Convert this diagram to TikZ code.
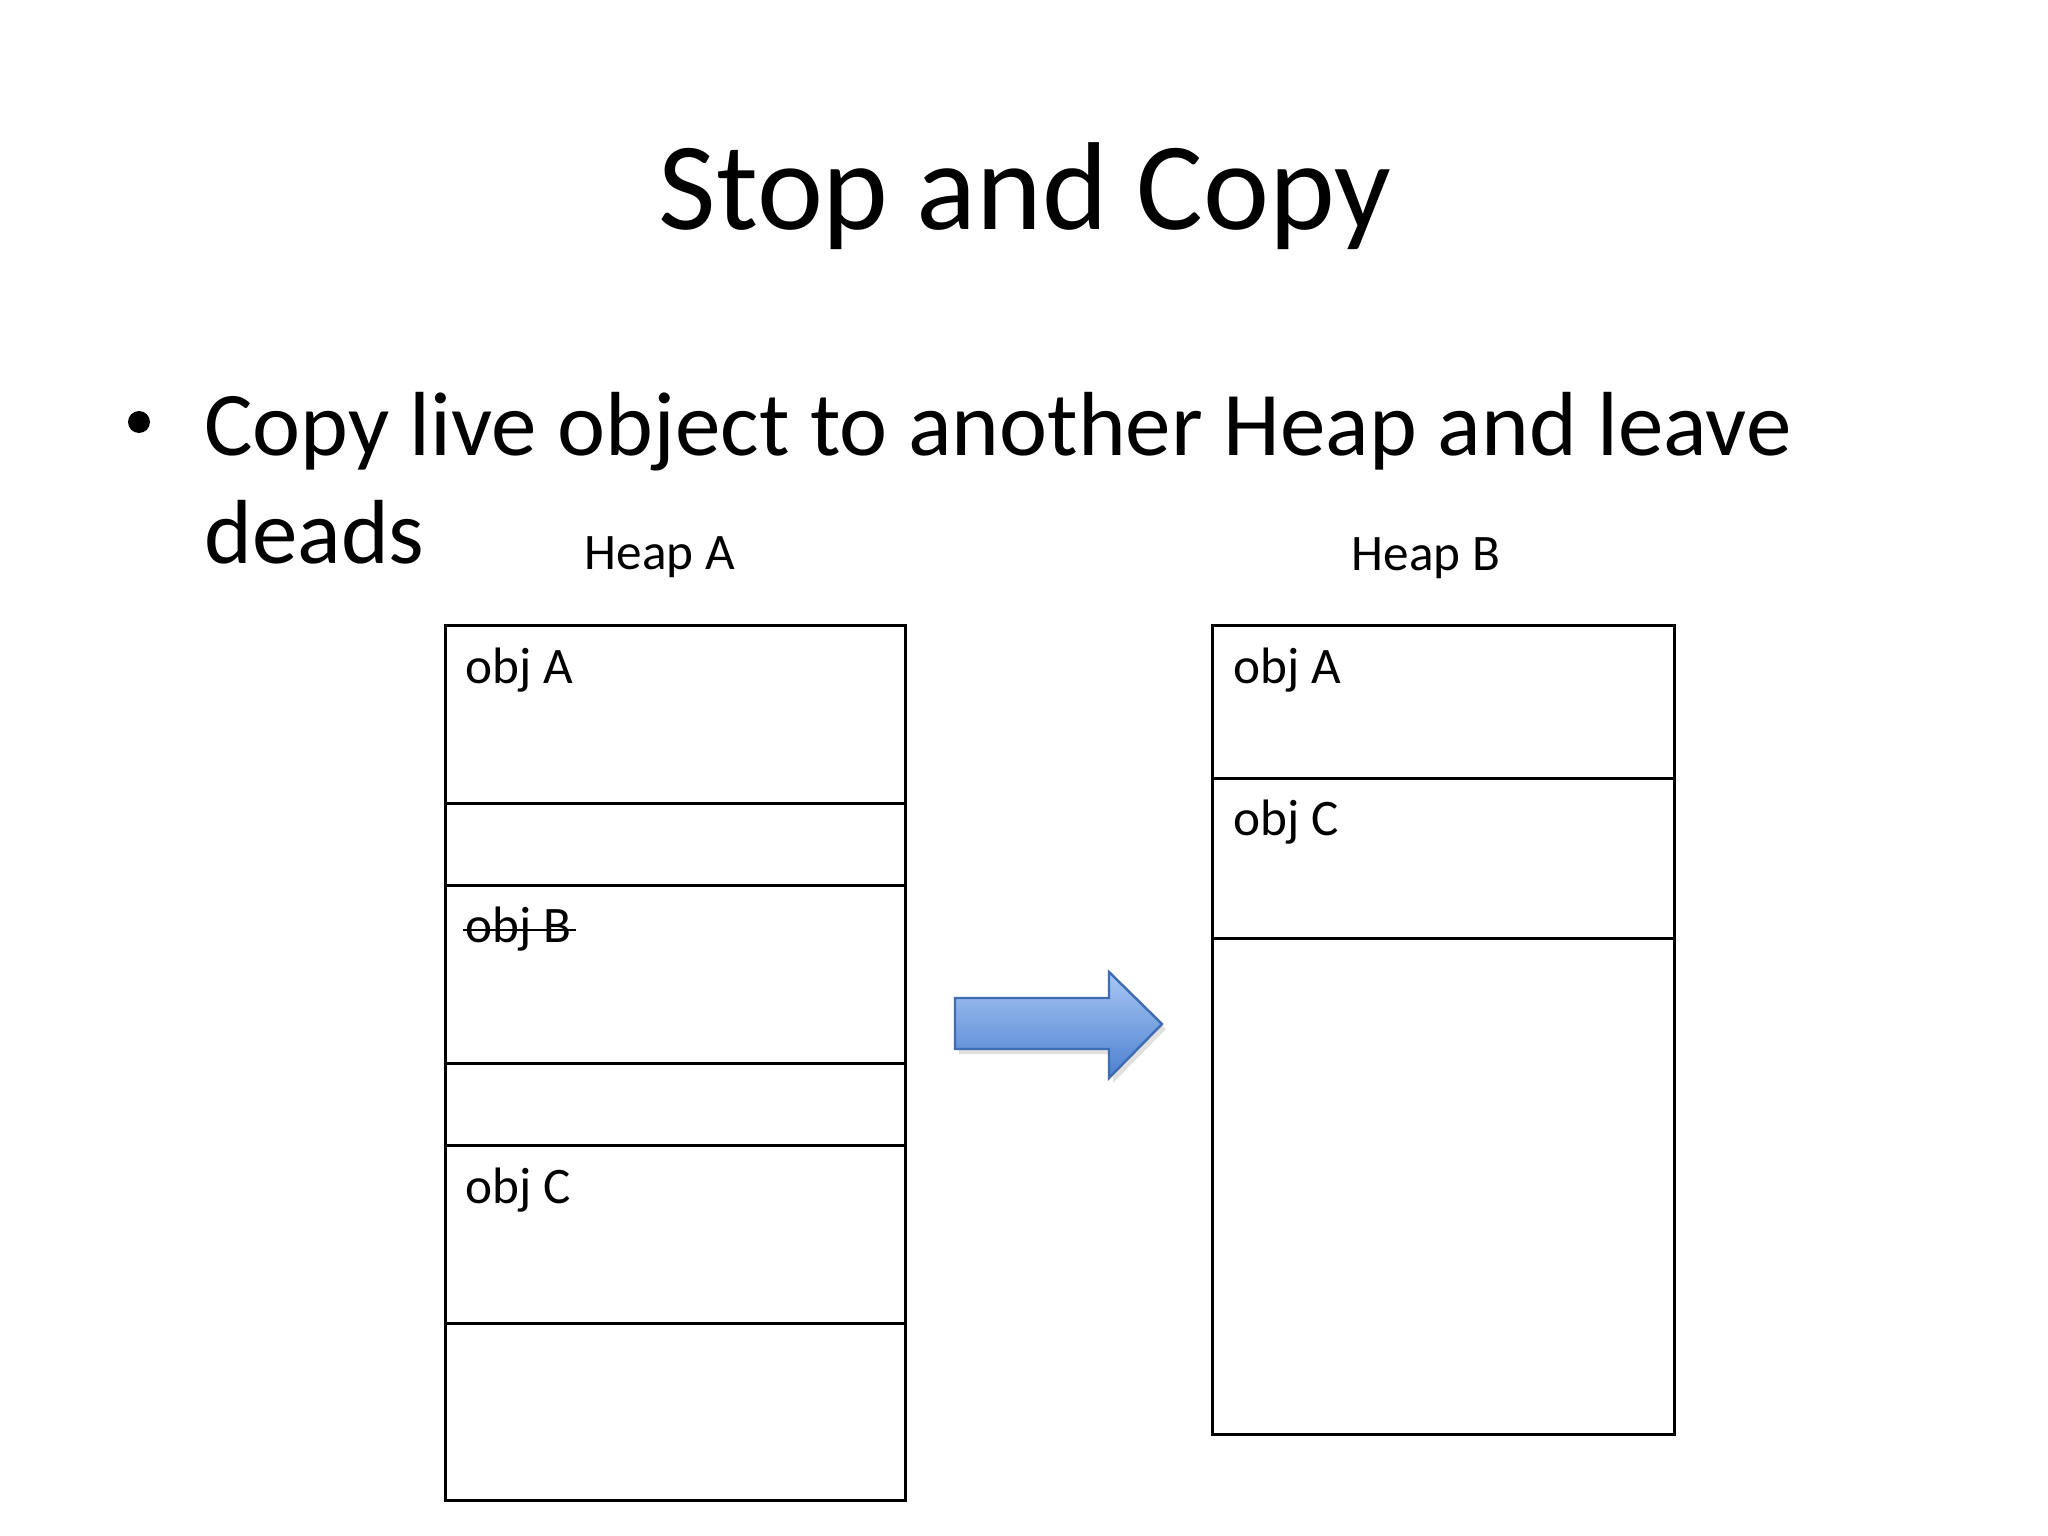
\documentclass[tikz,border=0pt]{standalone}
\usepackage{fontspec}
\setmainfont{Carlito}
\usepackage{tikz}
\usetikzlibrary{arrows,positioning,backgrounds,calc}
\definecolor{arrowtop}{HTML}{A9C7F4}
\definecolor{arrowbot}{HTML}{4C80D0}
\definecolor{arrowline}{HTML}{3F6DB3}

\begin{document}
\begin{tikzpicture}[line width=0.75pt,
   cell/.style={draw, anchor=north west, minimum width=4.60cm, inner sep=0pt},
   cellB/.style={cell, minimum width=4.62cm},
   objlabel/.style={anchor=base west, inner sep=0pt, font=\fontsize{14.57}{17}\selectfont},
   heaplabel/.style={anchor=base, inner sep=0pt, font=\fontsize{14.57}{17}\selectfont}]
  \useasboundingbox[fill=white] (0,0) rectangle (20.48,-15.36);
  \node[anchor=base, inner sep=0pt, font=\fontsize{35.6}{42}\selectfont] (title) at (10.25,-2.30) {Stop and Copy};
  \node[circle, fill=black, inner sep=0pt, minimum size=0.22cm] (bullet) at (1.39,-4.22) {};
  % base of a two line node is the baseline of its last line
  \node[anchor=base west, inner sep=0pt, align=left, font=\fontsize{25.9}{30.7}\selectfont] (point) at (2.03,-5.63) {Copy live object to another Heap and leave\\deads};
  % heap A
  \node[heaplabel] (heapA) at (6.60,-5.70) {Heap A};
  \node[cell, minimum height=1.78cm] (a1) at (4.44,-6.24) {};
  \node[cell, minimum height=0.82cm] (a2) at (4.44,-8.02) {};
  \node[cell, minimum height=1.78cm] (a3) at (4.44,-8.84) {};
  \node[cell, minimum height=0.82cm] (a4) at (4.44,-10.62) {};
  \node[cell, minimum height=1.78cm] (a5) at (4.44,-11.44) {};
  \node[cell, minimum height=1.77cm] (a6) at (4.44,-13.22) {};
  \node[objlabel] (objA) at (4.64,-6.83) {obj A};
  \node[objlabel] (objB) at (4.64,-9.42) {obj B};
  \draw[line width=0.55pt] ($(objB.base west)+(-0.01,0.12)$) -- ($(objB.base east)+(0.04,0.12)$);
  \node[objlabel] (objC) at (4.64,-12.03) {obj C};
  % heap B
  \node[heaplabel] (heapB) at (14.26,-5.71) {Heap B};
  \node[cellB, minimum height=1.53cm] (b1) at (12.11,-6.24) {};
  \node[cellB, minimum height=1.60cm] (b2) at (12.11,-7.77) {};
  \node[cellB, minimum height=4.96cm] (b3) at (12.11,-9.37) {};
  \node[objlabel] (newA) at (12.32,-6.83) {obj A};
  \node[objlabel] (newC) at (12.32,-8.35) {obj C};
  % the block arrow
  \fill[black, opacity=0.12] (9.59,-10.03) -- (11.13,-10.03) -- (11.13,-9.77) -- (11.66,-10.29) -- (11.13,-10.83) -- (11.13,-10.54) -- (9.59,-10.54) -- cycle;
  \path[draw=arrowline, top color=arrowtop, bottom color=arrowbot, line width=0.7pt, line join=miter]
    (9.55,-9.98) -- (11.09,-9.98) -- (11.09,-9.72) -- (11.62,-10.24) -- (11.09,-10.78) -- (11.09,-10.49) -- (9.55,-10.49) -- cycle;
\end{tikzpicture}
\end{document}
